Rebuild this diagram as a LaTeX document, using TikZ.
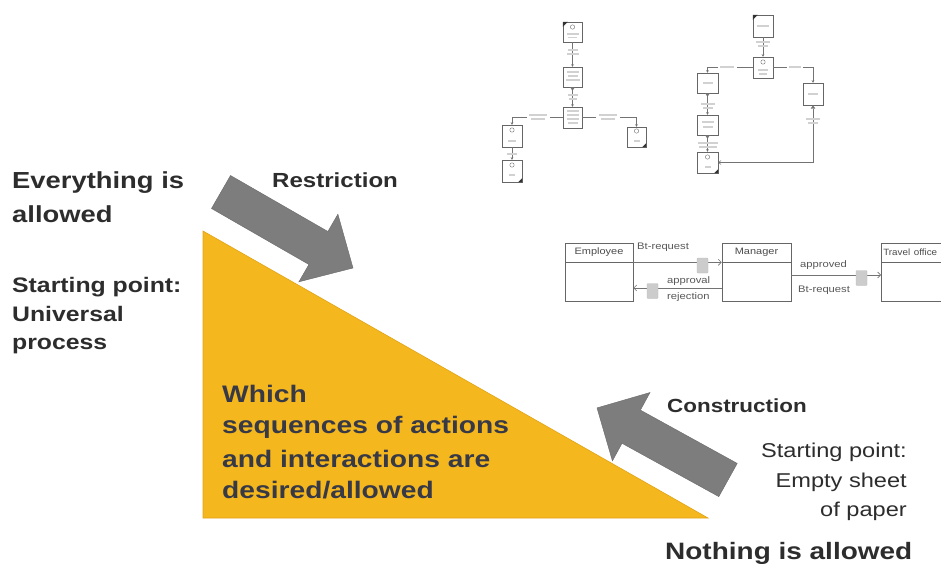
\documentclass[tikz,border=0pt]{standalone}
\usepackage{fontspec}
\setmainfont{Liberation Sans}
\usepackage{graphicx}
\usetikzlibrary{arrows.meta}
\definecolor{tri}{RGB}{245,183,30}
\definecolor{triedge}{RGB}{225,163,22}
\definecolor{arr}{RGB}{125,125,125}
\definecolor{arredge}{RGB}{105,105,105}
\definecolor{txt}{RGB}{45,45,45}
\definecolor{tritxt}{RGB}{55,58,70}
\newcommand{\stx}[2]{\scalebox{1.18}[1]{\fontsize{#1pt}{#1pt}\selectfont #2}}
\newcommand{\blurbar}[3]{\fill[black!18] (#1-#3/2,#2-0.8) rectangle (#1+#3/2,#2+0.8);}
\begin{document}
\begin{tikzpicture}[x=1pt,y=-1pt,
  lbl/.style={inner sep=0pt, anchor=base west, text=txt},
  lblr/.style={inner sep=0pt, anchor=base east, text=txt},
  tlbl/.style={inner sep=0pt, anchor=base west, text=tritxt},
  fc/.style={draw=black!60, line width=0.45pt, fill=white, inner sep=0pt, minimum width=19pt, minimum height=21pt},
  fl/.style={draw=black!55, line width=0.45pt},
  fa/.style={-{Stealth[length=2.5pt,width=2.5pt]}},
  ft/.style={{Triangle[reversed,length=3.5pt,width=4.5pt]}-{Stealth[length=2.5pt,width=2.5pt]}},
  cls/.style={draw=black!60, line width=0.6pt, inner sep=0pt, minimum width=68pt, text=black!70},
  msg/.style={draw=black!55, line width=0.6pt, -{Straight Barb[length=3pt,width=6pt]}},
  tok/.style={fill=black!20, draw=black!25, rounded corners=1pt, inner sep=0pt, minimum width=11pt, minimum height=15pt},
  mlbl/.style={inner sep=0pt, anchor=west, text=black!65},
  blockarrow/.style={fill=arr, draw=arredge, line width=0.4pt},
  corner/.style={fill=black!80}
]
\useasboundingbox (0,0) rectangle (941,564);
\fill[white] (0,0) rectangle (941,564);

% ---------- triangle ----------
\filldraw[fill=tri, draw=triedge, line width=0.6pt] (203,231) -- (203,518) -- (708,518) -- cycle;

% ---------- block arrows ----------
\filldraw[blockarrow] (230.5,175.5) -- (327.9,231.5) -- (337.9,214.2) -- (353,268)
  -- (298.9,281.8) -- (308.9,264.5) -- (211.5,208.5) -- cycle;
\filldraw[blockarrow] (737.2,463.4) -- (640.4,410.1) -- (650.0,392.5) -- (597.0,407.9)
  -- (612.4,460.9) -- (622.0,443.3) -- (718.8,496.6) -- cycle;

% ---------- texts ----------
\node[lbl] (t1) at (12,189) {\stx{23.2}{\bfseries Everything is}};
\node[lbl] (t2) at (12,222) {\stx{23.2}{\bfseries allowed}};
\node[lbl] (t3) at (12,292) {\stx{21}{\bfseries Starting point:}};
\node[lbl] (t4) at (12,321) {\stx{21}{\bfseries Universal}};
\node[lbl] (t5) at (12,349) {\stx{21}{\bfseries process}};
\node[lbl] (t6) at (272,187) {\stx{20.4}{\bfseries Restriction}};
\node[tlbl] (t7) at (222,402) {\stx{23.9}{\bfseries Which}};
\node[tlbl] (t8) at (222,433) {\stx{23.9}{\bfseries sequences of actions}};
\node[tlbl] (t9) at (222,467) {\stx{23.9}{\bfseries and interactions are}};
\node[tlbl] (t10) at (222,498) {\stx{23.9}{\bfseries desired/allowed}};
\node[lbl] (t11) at (667,412) {\stx{19}{\bfseries Construction}};
\node[lblr] (t12) at (907,457) {\stx{20}{Starting point:}};
\node[lblr] (t13) at (907,487) {\stx{20}{Empty sheet}};
\node[lblr] (t14) at (907,516) {\stx{20}{of paper}};
\node[lbl] (t15) at (665,559) {\stx{23.7}{\bfseries Nothing is allowed}};

% ---------- flowchart 1 ----------
\node[fc, minimum height=20pt] (f1a) at (572.5,32) {};
\node[fc, minimum height=20pt] (f1b) at (572.5,77) {};
\node[fc] (f1c) at (572.5,117.5) {};
\node[fc, minimum width=20pt, minimum height=22pt] (f1d) at (512,136) {};
\node[fc, minimum height=20pt] (f1e) at (636.5,137) {};
\node[fc, minimum width=20pt, minimum height=22pt] (f1f) at (512,171) {};
\draw[fl,fa] (f1a) -- (f1b);
\draw[fl,ft] (f1b) -- (f1c);
\draw[fl,fa] (f1c.west) -| (f1d.north);
\draw[fl,fa] (f1c.east) -| (f1e.north);
\draw[fl,fa] (f1d) -- (f1f);
\fill[corner] (f1a.north west) -- ++(5,0) -- ++(-5,5) -- cycle;
\fill[corner] (f1e.south east) -- ++(-4,0) -- ++(4,-4) -- cycle;
\fill[corner] (f1f.south east) -- ++(-4,0) -- ++(4,-4) -- cycle;
\draw[black!55, line width=0.4pt] (572.5,27) circle (2.2);
\draw[black!55, line width=0.4pt] (512,130) circle (2.2);
\draw[black!55, line width=0.4pt] (636.5,131) circle (2.2);
\draw[black!55, line width=0.4pt] (512,165) circle (2.2);
\fill[white] (527,112) rectangle (550,122);
\fill[white] (596,112) rectangle (620,122);
\blurbar{572.5}{34}{12}\blurbar{572.5}{37.5}{9}
\blurbar{572.5}{50}{10}\blurbar{572.5}{54}{12}
\blurbar{572.5}{72}{12}\blurbar{572.5}{76}{10}\blurbar{572.5}{80}{14}
\blurbar{572.5}{95}{10}\blurbar{572.5}{99}{8}
\blurbar{572.5}{111}{12}\blurbar{572.5}{115}{12}\blurbar{572.5}{119}{12}\blurbar{572.5}{123}{10}
\blurbar{538}{115}{18}\blurbar{538}{119}{14}
\blurbar{608}{115}{18}\blurbar{608}{119}{14}
\blurbar{512}{141}{8}\blurbar{512}{154}{10}
\blurbar{636.5}{141}{6}\blurbar{512}{175}{6}

% ---------- flowchart 2 ----------
\node[fc, minimum width=20pt, minimum height=22pt] (f2a) at (763,26) {};
\node[fc, minimum width=20pt] (f2b) at (763,67.5) {};
\node[fc, minimum width=21pt, minimum height=20pt] (f2c) at (707.5,83) {};
\node[fc, minimum width=20pt, minimum height=22pt] (f2d) at (813,94) {};
\node[fc, minimum width=21pt, minimum height=20pt] (f2e) at (707.5,125) {};
\node[fc, minimum width=21pt] (f2f) at (707.5,162.5) {};
\draw[fl,fa] (f2a) -- (f2b);
\draw[fl,fa] (f2b.west) -| (f2c.north);
\draw[fl,fa] (f2b.east) -| (f2d.north);
\draw[fl,ft] (f2c) -- (f2e);
\draw[fl,ft] (f2e) -- (f2f);
\draw[fl,{Triangle[length=3.5pt,width=4.5pt]}-{Straight Barb[length=2.5pt,width=4pt]}] (f2d.south) |- (f2f.east);
\fill[corner] (f2a.north west) -- ++(5,0) -- ++(-5,5) -- cycle;
\fill[corner] (f2f.south east) -- ++(-4,0) -- ++(4,-4) -- cycle;
\draw[black!55, line width=0.4pt] (763,62) circle (2.2);
\draw[black!55, line width=0.4pt] (707.5,157) circle (2.2);
\fill[white] (718,63) rectangle (737,71);
\fill[white] (787,63) rectangle (803,71);
\blurbar{763}{26}{12}
\blurbar{763}{42}{14}\blurbar{763}{46}{10}
\blurbar{763}{70}{10}\blurbar{763}{74}{8}
\blurbar{727}{67}{14}\blurbar{795}{67}{12}
\blurbar{707.5}{83}{10}\blurbar{813}{94}{10}
\blurbar{707.5}{104}{14}\blurbar{707.5}{108}{10}
\blurbar{707.5}{122}{12}\blurbar{707.5}{127}{10}
\blurbar{707.5}{143}{20}\blurbar{707.5}{147}{18}
\blurbar{707.5}{167}{6}
\blurbar{813}{119}{14}\blurbar{813}{123}{10}

% ---------- interaction diagram ----------
\node[cls, minimum height=19pt] (emph) at (599,252.5) {\stx{9.3}{Employee}};
\node[cls, minimum height=39pt] (empb) at (599,281.5) {};
\node[cls, minimum width=69pt, minimum height=19pt] (mgrh) at (756.5,252.5) {\stx{9.3}{Manager}};
\node[cls, minimum width=69pt, minimum height=39pt] (mgrb) at (756.5,281.5) {};
\node[cls, minimum width=70pt, minimum height=19pt, anchor=west, text width=66pt, inner xsep=2pt, align=left] (troh) at (881,252.5) {\scalebox{1.08}[1]{\fontsize{9.1pt}{9.1pt}\selectfont Travel office}};
\node[cls, minimum width=70pt, minimum height=39pt, anchor=west] (trob) at (881,281.5) {};
\draw[msg] (emph.south east) -- (mgrh.south west);
\draw[msg] ([yshift=-6.5pt]mgrb.west) -- ([yshift=-6.5pt]empb.east);
\draw[msg] ([yshift=6.5pt]mgrb.east) -- ([yshift=6.5pt]trob.west);
\node[tok] (tok1) at (702.5,265.5) {};
\node[tok] (tok2) at (652.5,291) {};
\node[tok] (tok3) at (861.5,278) {};
\node[mlbl] (m1) at (637,247) {\stx{9.5}{Bt-request}};
\node[mlbl] (m2) at (667,281) {\stx{9.5}{approval}};
\node[mlbl] (m3) at (667,297) {\stx{9.5}{rejection}};
\node[mlbl] (m4) at (800,265) {\stx{9.5}{approved}};
\node[mlbl] (m5) at (798,290) {\stx{9.5}{Bt-request}};
\end{tikzpicture}
\end{document}
